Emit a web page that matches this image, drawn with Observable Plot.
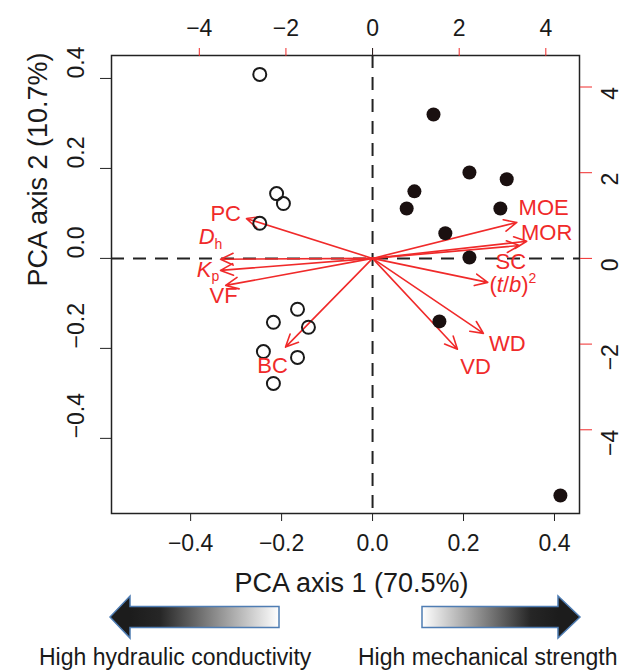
<!DOCTYPE html>
<html><head><meta charset="utf-8">
<script src="https://cdn.jsdelivr.net/npm/d3@7"></script>
<script src="https://cdn.jsdelivr.net/npm/@observablehq/plot@0.6"></script>
<style>
body{margin:0;background:#fff;font-family:"Liberation Sans",Arial,sans-serif;}
#wrap{position:relative;width:627px;height:670px;overflow:hidden;}
#overlay{position:absolute;left:0;top:0;pointer-events:none;}
</style></head><body><div id="wrap"></div>
<script>
// PCA scores — open circles (high hydraulic conductivity group)
const openPC1 = [-0.248,-0.211,-0.196,-0.248,-0.165,-0.141,-0.218,-0.240,-0.165,-0.218];
const openPC2 = [0.409,0.144,0.122,0.078,-0.113,-0.153,-0.142,-0.207,-0.220,-0.278];
// PCA scores — filled circles (high mechanical strength group)
const filledPC1 = [0.134,0.213,0.295,0.092,0.075,0.281,0.160,0.213,0.147,0.413];
const filledPC2 = [0.320,0.191,0.176,0.149,0.111,0.111,0.056,0.002,-0.140,-0.527];
// Trait loadings (top / right axis units)
const traits = ["PC","Dh","Kp","VF","BC","MOE","MOR","SC","(t/b)²","WD","VD"];
const loadX = [-2.91,-3.51,-3.51,-3.39,-2.01,3.33,3.56,3.39,2.66,2.56,1.96];
const loadY = [0.93,-0.02,-0.28,-0.63,-2.07,0.84,0.40,0.30,-0.56,-1.75,-2.12];
// Trait label positions (top / right axis units)
const labelX = [-3.39,-3.74,-3.80,-3.44,-2.31,3.95,4.02,3.19,3.24,3.11,2.38];
const labelY = [1.03,0.51,-0.28,-0.88,-2.52,1.18,0.59,-0.08,-0.61,-1.99,-2.53];
// Tick values
const xTicks = [-0.4,-0.2,0,0.2,0.4];
const yTicks = [-0.4,-0.2,0,0.2,0.4];
const topTicks = [-4,-2,0,2,4];
const rightTicks = [-4,-2,0,2,4];
const xTitle = "PCA axis 1 (70.5%)";
const yTitle = "PCA axis 2 (10.7%)";
const leftNote = "High hydraulic conductivity";
const rightNote = "High mechanical strength";

const k = 1/10.5; // loading-axis to score-axis ratio
const red = "#f02a2a";
const ink = "#1a1a1a";
const fmt1 = d3.format(".1f"), fmt0 = d3.format("d");

const openPts = openPC1.map((x,i)=>({x, y: openPC2[i]}));
const filledPts = filledPC1.map((x,i)=>({x, y: filledPC2[i]}));
const loads = traits.map((name,i)=>({name, x: loadX[i], y: loadY[i], lx: labelX[i], ly: labelY[i]}));

const chart = Plot.plot({
  width: 627, height: 600,
  marginLeft: 111, marginRight: 48, marginTop: 55, marginBottom: 87,
  style: {fontFamily: "'Liberation Sans', Arial, sans-serif", background: "white", color: ink, overflow: "visible"},
  x: {domain: [-0.574, 0.455]},
  y: {domain: [-0.567, 0.451]},
  marks: [
    Plot.ruleX([0], {stroke: "#222", strokeWidth: 2, strokeDasharray: "13,9"}),
    Plot.ruleY([0], {stroke: "#222", strokeWidth: 2, strokeDasharray: "13,9"}),
    Plot.arrow(loads, {x1: () => 0, y1: () => 0, x2: d => d.x*k, y2: d => d.y*k,
      stroke: red, strokeWidth: 1.6, headLength: 13, headAngle: 50}),
    Plot.dot(openPts, {x: "x", y: "y", r: 6.5, stroke: ink, strokeWidth: 2, fill: "none"}),
    Plot.dot(filledPts, {x: "x", y: "y", r: 7, fill: "#1a1010", stroke: "none"}),
    Plot.text(loads, {x: d => d.lx*k, y: d => d.ly*k, text: "name", fill: red, fontSize: 22}),
    Plot.frame({stroke: "#222", strokeWidth: 1.5}),
    // bottom axis
    Plot.axisX(xTicks, {anchor: "bottom", tickSize: 8, tickFormat: () => "", label: null, stroke: "#222"}),
    Plot.text(xTicks, {x: d => d, frameAnchor: "bottom", lineAnchor: "middle", dy: 30, text: d => fmt1(d), fontSize: 23, fill: ink}),
    // left axis
    Plot.axisY(yTicks, {anchor: "left", tickSize: 11, tickFormat: () => "", label: null, stroke: "#222"}),
    Plot.text(yTicks, {y: d => d, frameAnchor: "left", lineAnchor: "middle", dx: -35, rotate: -90, text: d => fmt1(d), fontSize: 23, fill: ink}),
    // top axis (loadings)
    Plot.axisX(topTicks.map(v => v*k), {anchor: "top", tickSize: 8, tickFormat: () => "", label: null, stroke: red}),
    Plot.axisX([0], {anchor: "top", tickSize: 8, tickFormat: () => "", label: null, stroke: "#222"}),
    Plot.text(topTicks, {x: d => d*k, frameAnchor: "top", lineAnchor: "middle", dy: -27, text: d => fmt0(d), fontSize: 23, fill: ink}),
    // right axis (loadings)
    Plot.axisY(rightTicks.map(v => v*k), {anchor: "right", tickSize: 12, tickFormat: () => "", label: null, stroke: red}),
    Plot.text(rightTicks, {y: d => d*k, frameAnchor: "right", lineAnchor: "middle", dx: 31, rotate: -90, text: d => fmt0(d), fontSize: 23, fill: ink}),
    // titles
    Plot.text([xTitle], {frameAnchor: "bottom", lineAnchor: "middle", dx: 6, dy: 70, text: d => d, fontSize: 27, fill: ink}),
    Plot.text([yTitle], {frameAnchor: "left", lineAnchor: "middle", dx: -73, dy: 2, rotate: -90, text: d => d, fontSize: 27, fill: ink})
  ]
});

// rich-text trait labels (italics, sub/superscripts)
const rich = {
  "Dh": [["D", {i: true}], ["h", {size: 14, dy: 5}]],
  "Kp": [["K", {i: true}], ["p", {size: 14, dy: 4}]],
  "(t/b)²": [["(", {}], ["t", {i: true}], ["/", {}], ["b", {i: true}], [")", {}], ["2", {size: 14, dy: -9}]]
};
d3.select(chart).selectAll("text").each(function() {
  const t = this.textContent;
  if (rich[t]) {
    const sel = d3.select(this);
    sel.text(null);
    rich[t].forEach(([s, o]) => {
      const ts = sel.append("tspan").text(s);
      if (o.i) ts.attr("font-style", "italic");
      if (o.size) ts.attr("font-size", o.size);
      if (o.dy) ts.attr("dy", o.dy);
    });
  }
});

const wrap = document.getElementById("wrap");
wrap.appendChild(chart);

// bottom gradient arrows and notes
const ov = d3.select(wrap).append("svg").attr("id", "overlay").attr("width", 627).attr("height", 670);
const defs = ov.append("defs");
const gl = defs.append("linearGradient").attr("id", "gl").attr("gradientUnits", "userSpaceOnUse")
  .attr("x1", 130).attr("x2", 279).attr("y1", 0).attr("y2", 0);
gl.append("stop").attr("offset", 0).attr("stop-color", "#1c1c1c");
gl.append("stop").attr("offset", 0.2).attr("stop-color", "#262626");
gl.append("stop").attr("offset", 1).attr("stop-color", "#ffffff");
const gr = defs.append("linearGradient").attr("id", "gr").attr("gradientUnits", "userSpaceOnUse")
  .attr("x1", 422).attr("x2", 558).attr("y1", 0).attr("y2", 0);
gr.append("stop").attr("offset", 0).attr("stop-color", "#ffffff");
gr.append("stop").attr("offset", 0.8).attr("stop-color", "#262626");
gr.append("stop").attr("offset", 1).attr("stop-color", "#1c1c1c");
ov.append("path").attr("d", "M110,617 L130,596 L130,606.5 L279,606.5 L279,627.5 L130,627.5 L130,638 Z")
  .attr("fill", "url(#gl)").attr("stroke", "#4f7db3").attr("stroke-width", 1.5);
ov.append("path").attr("d", "M422,606.5 L558,606.5 L558,596 L580,617 L558,638 L558,627.5 L422,627.5 Z")
  .attr("fill", "url(#gr)").attr("stroke", "#4f7db3").attr("stroke-width", 1.5);
ov.append("text").attr("x", 39).attr("y", 665).attr("font-size", 23).attr("fill", ink)
  .attr("font-family", "'Liberation Sans', Arial, sans-serif").text(leftNote);
ov.append("text").attr("x", 358).attr("y", 665).attr("font-size", 23).attr("fill", ink)
  .attr("font-family", "'Liberation Sans', Arial, sans-serif").text(rightNote);
</script></body></html>
